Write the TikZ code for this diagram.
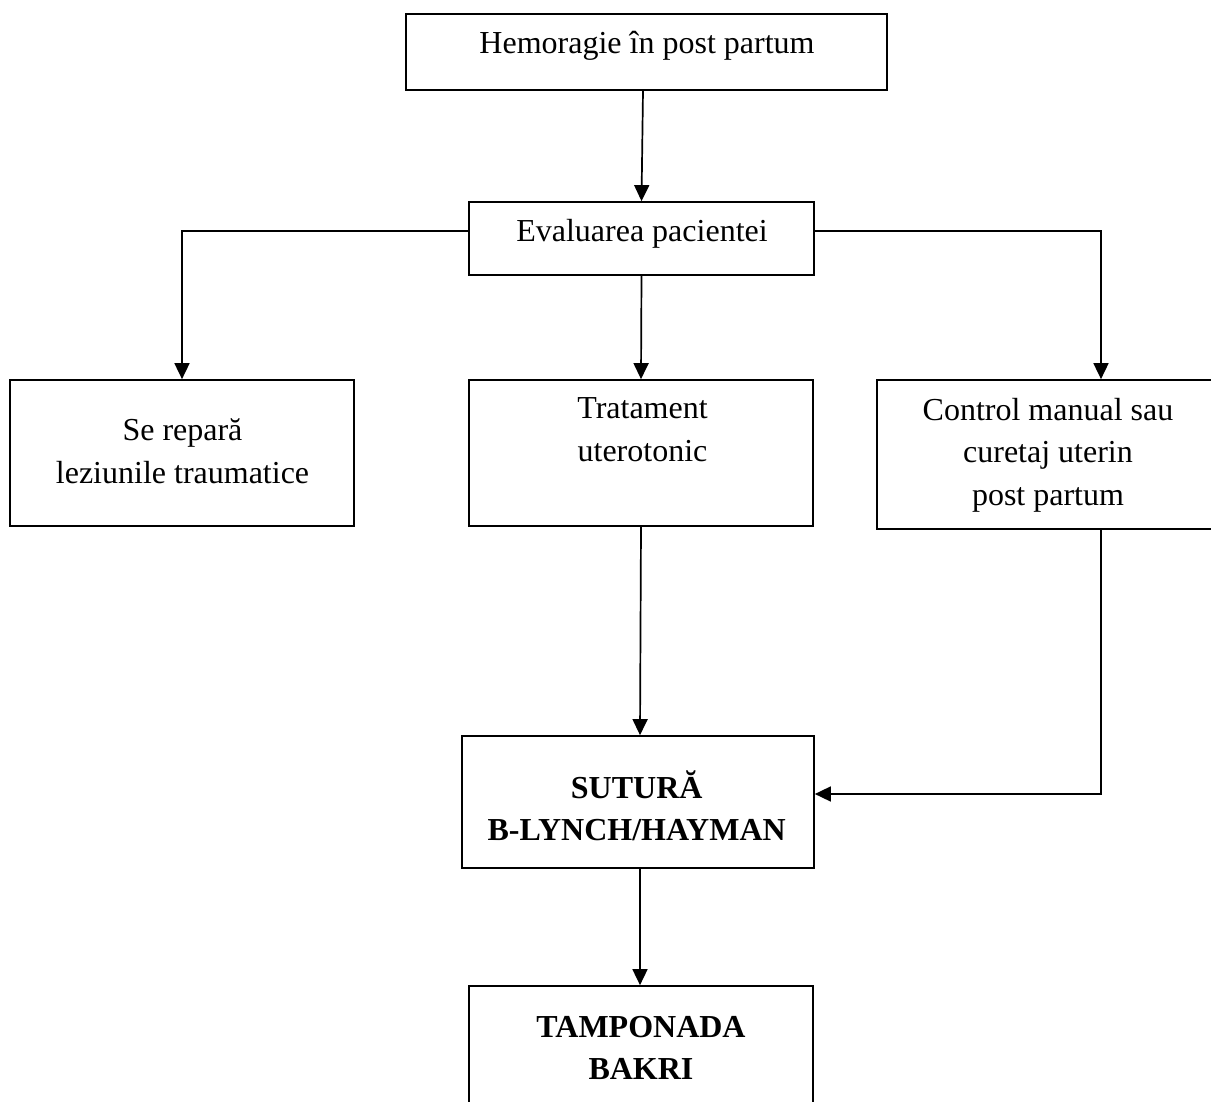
\documentclass[tikz,border=0pt]{standalone}
\usepackage{fontspec}
\setmainfont{Liberation Serif}
\usetikzlibrary{arrows.meta}
\begin{document}
\begin{tikzpicture}[x=1pt,y=-1pt,
  box/.style={draw, line width=1.7pt, inner sep=0pt},
  txt/.style={inner sep=0pt, anchor=base, align=center, font=\fontsize{32}{42.5}\selectfont},
  arr/.style={-{Triangle[length=16pt,width=15pt]}, line width=1.7pt}]
\useasboundingbox (0,0) rectangle (1211,1102);
\clip (0,0) rectangle (1211,1102);
% boxes
\node[box, minimum width=481pt, minimum height=76pt] (b1) at (646.5,52) {};
\node[box, minimum width=345pt, minimum height=73pt] (b2) at (641.5,238.5) {};
\node[box, minimum width=344pt, minimum height=146pt] (b3) at (182,453) {};
\node[box, minimum width=344pt, minimum height=146pt] (b4) at (641,453) {};
\node[box, minimum width=339pt, minimum height=149pt] (b5) at (1046.5,454.5) {};
\node[box, minimum width=352pt, minimum height=132pt] (b6) at (638,802) {};
\node[box, minimum width=344pt, minimum height=124pt] (b7) at (641,1048) {};
% texts (base anchor = baseline of the last line)
\node[txt] (t1) at (647,53.3) {Hemoragie în post partum};
\node[txt] (t2) at (642,241.7) {Evaluarea pacientei};
\node[txt] (t3) at (182.5,483) {Se repară\\leziunile traumatice};
\node[txt] (t4) at (642.5,461) {Tratament\\uterotonic};
\node[txt] (t5) at (1048,505) {Control manual sau\\curetaj uterin\\post partum};
\node[txt, font=\fontsize{32}{42}\selectfont\bfseries] (t6) at (636.7,840) {SUTURĂ\\B-LYNCH/HAYMAN};
\node[txt, font=\fontsize{32}{42}\selectfont\bfseries] (t7) at (641,1079) {TAMPONADA\\BAKRI};
% connectors
\draw[arr] ([xshift=-3.5pt]b1.south) -- (b2.north);
\draw[arr] ([yshift=7.5pt]b2.west) -| (b3.north);
\draw[arr] ([yshift=7.5pt]b2.east) -| ([xshift=54.5pt]b5.north);
\draw[arr] (b2.south) -- (b4.north);
\draw[arr] (b4.south) -- ([xshift=2pt]b6.north);
\draw[arr] ([xshift=54.5pt]b5.south) |- ([yshift=8pt]b6.east);
\draw[arr] ([xshift=2pt]b6.south) -- ([xshift=-1pt]b7.north);
\end{tikzpicture}
\end{document}
